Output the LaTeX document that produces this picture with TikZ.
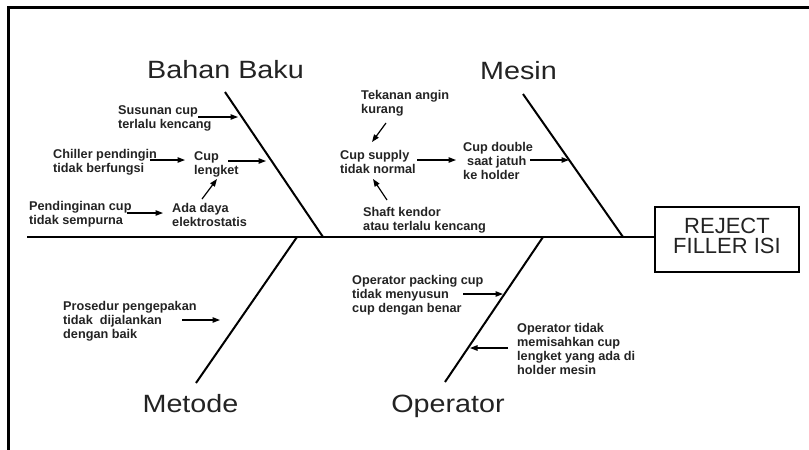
\documentclass[tikz,border=0pt]{standalone}
\usepackage{fontspec}
\setmainfont{Liberation Sans}
\usetikzlibrary{arrows.meta}
\definecolor{txt}{RGB}{35,35,35}
\begin{document}
\begin{tikzpicture}[x=1pt,y=-1pt,
  lbl/.style={font=\fontsize{12.7}{14.1}\selectfont\bfseries, text=txt, align=left, anchor=base west, inner sep=0pt},
  big/.style={font=\fontsize{25}{28}\selectfont, text=txt, inner sep=0pt, anchor=base},
  bone/.style={line width=2pt, black},
  arr/.style={-{Triangle[length=7.5pt,width=5.5pt]}, line width=1.2pt, black},
  effbox/.style={draw, line width=2pt, minimum width=144pt, minimum height=65pt, inner sep=0pt},
  efftxt/.style={font=\fontsize{22}{20.7}\selectfont, text=txt, align=center, inner sep=0pt}]
\useasboundingbox (0,0) rectangle (809,450);
% frame
\draw[line width=2.4pt] (8.5,450) -- (8.5,7.5) -- (809,7.5);
% effect box and spine
\node[effbox] (effect) at (727,239.5) {};
\node[efftxt] (efflbl) at ([yshift=3.6pt]effect.center) {REJECT\\FILLER ISI};
\coordinate (tail) at (27,237);
\draw[bone] (tail) -- (tail -| effect.west);
% bones
\coordinate (bbtop) at (225,92);  \coordinate (bbfoot) at (323,237);
\coordinate (mstop) at (523,94);  \coordinate (msfoot) at (623,237);
\coordinate (mtbot) at (196,383); \coordinate (mtfoot) at (297,237);
\coordinate (opbot) at (445,382); \coordinate (opfoot) at (543,237);
\draw[bone] (bbtop) -- (bbfoot);
\draw[bone] (mstop) -- (msfoot);
\draw[bone] (mtbot) -- (mtfoot);
\draw[bone] (opbot) -- (opfoot);
% category labels
\node[big] (bahan) at (225.5,78) {\scalebox{1.15}[1]{Bahan Baku}};
\node[big] (mesin) at (518.5,79) {\scalebox{1.15}[1]{Mesin}};
\node[big] (metode) at (190.5,412) {\scalebox{1.15}[1]{Metode}};
\node[big] (operator) at (448,412) {\scalebox{1.15}[1]{Operator}};
% cause texts (anchored at the baseline of their last line)
\node[lbl] (susunan) at (118,128.1) {Susunan cup\\terlalu kencang};
\node[lbl] (chiller) at (53,172.1) {Chiller pendingin\\tidak berfungsi};
\node[lbl] (cuplk) at (194,174.1) {Cup\\lengket};
\node[lbl] (pendin) at (29,224.1) {Pendinginan cup\\tidak sempurna};
\node[lbl] (ada) at (172,226.1) {Ada daya\\elektrostatis};
\node[lbl] (tekanan) at (361,113.1) {Tekanan angin\\kurang};
\node[lbl] (cupsup) at (340,173.6) {Cup supply\\tidak normal};
\node[lbl] (cupdbl) at (463,179.2) {Cup double\\\hspace{4pt}saat jatuh\\ke holder};
\node[lbl] (shaft) at (363,230.1) {Shaft kendor\\atau terlalu kencang};
\node[lbl] (oppack) at (352,312.2) {Operator packing cup\\tidak menyusun\\cup dengan benar};
\node[lbl] (optidak) at (517,374.3) {Operator tidak\\memisahkan cup\\lengket yang ada di\\holder mesin};
\node[lbl] (prosedur) at (63,338.2) {Prosedur pengepakan\\tidak\ \ dijalankan\\dengan baik};
% arrow end points
\coordinate (a1s) at (198,117);   \coordinate (a1e) at (238,117);
\coordinate (a2s) at (150,160);   \coordinate (a2e) at (185,160);
\coordinate (a3s) at (228,161);   \coordinate (a3e) at (266,161);
\coordinate (a4s) at (127,213);   \coordinate (a4e) at (163,213);
\coordinate (a5s) at (202,199);   \coordinate (a5e) at (217,179);
\coordinate (a6s) at (386,123);   \coordinate (a6e) at (372,142);
\coordinate (a7s) at (417,160);   \coordinate (a7e) at (456,160);
\coordinate (a8s) at (530,160);   \coordinate (a8e) at (569,160);
\coordinate (a9s) at (387,200);   \coordinate (a9e) at (373,179);
\coordinate (a10s) at (463,294);  \coordinate (a10e) at (503,294);
\coordinate (a11s) at (508,348);  \coordinate (a11e) at (470,348);
\coordinate (a12s) at (182,320);  \coordinate (a12e) at (220,320);
\foreach \i in {1,...,12} { \draw[arr] (a\i s) -- (a\i e); }
\end{tikzpicture}
\end{document}
